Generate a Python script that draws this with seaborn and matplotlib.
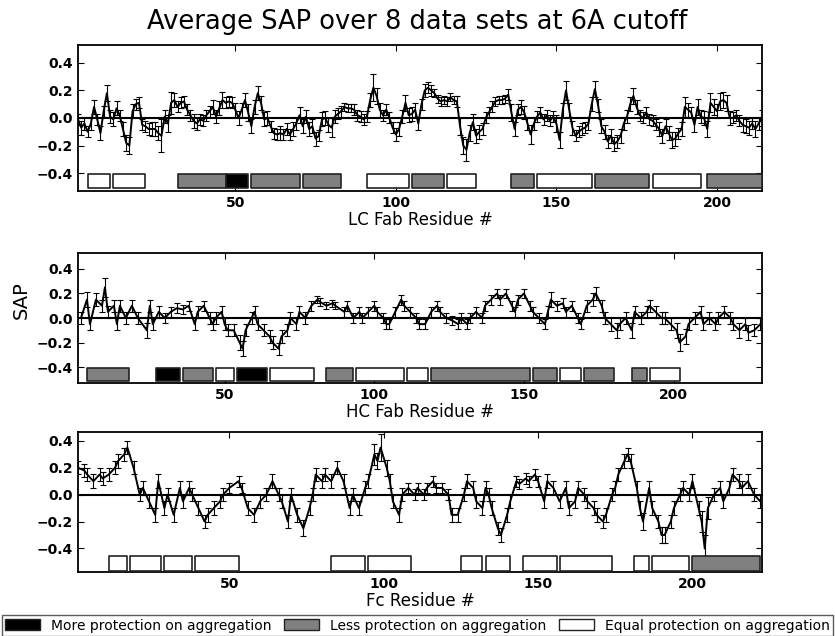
import matplotlib
matplotlib.use("Agg")
import numpy as np
import seaborn as sns
from matplotlib import pyplot as plt
from matplotlib.patches import Patch

sns.set_style("ticks", {"text.color": "black", "axes.labelcolor": "black",
                        "xtick.color": "black", "ytick.color": "black",
                        "axes.edgecolor": "black"})
plt.rcParams['font.family'] = ['DejaVu Sans']

# LC Fab, residues 1-214
lc_res = list(range(1, 215))
lc_sap = [-0.01, -0.07, -0.04, -0.10, -0.04, 0.08, -0.01, -0.11, 0.05, 0.18,
          0.01, -0.01, 0.07, 0.02, -0.08, -0.18, -0.20, 0.05, 0.10, 0.11,
          -0.05, -0.06, -0.08, -0.08, -0.08, -0.11, -0.13, 0.01, -0.04, 0.11,
          0.13, 0.08, 0.11, 0.12, 0.06, 0.02, -0.02, -0.04, -0.01, -0.02,
          0.02, 0.05, 0.08, 0.01, 0.07, 0.13, 0.11, 0.12, 0.11, 0.06,
          0.00, 0.06, 0.13, 0.04, -0.06, 0.08, 0.18, 0.11, -0.01, 0.00,
          -0.06, -0.11, -0.12, -0.11, -0.12, -0.08, -0.12, -0.08, -0.04, 0.02,
          -0.06, 0.01, -0.08, -0.06, -0.15, -0.13, -0.01, 0.00, -0.05, -0.07,
          0.01, 0.03, 0.05, 0.08, 0.07, 0.07, 0.06, 0.02, 0.01, -0.01,
          0.01, 0.13, 0.22, 0.16, 0.06, 0.02, 0.06, 0.00, -0.07, -0.12,
          -0.08, 0.01, 0.11, 0.02, 0.03, 0.06, -0.04, 0.10, 0.20, 0.22,
          0.20, 0.18, 0.14, 0.12, 0.13, 0.12, 0.15, 0.13, 0.12, -0.06,
          -0.20, -0.23, -0.11, -0.03, -0.13, -0.10, -0.08, 0.00, 0.04, 0.08,
          0.12, 0.13, 0.13, 0.14, 0.17, 0.04, -0.08, 0.06, 0.08, 0.04,
          -0.04, -0.12, -0.04, 0.01, 0.04, -0.01, 0.02, -0.02, 0.01, -0.04,
          -0.16, 0.06, 0.20, 0.06, -0.07, -0.13, -0.10, -0.08, -0.07, -0.04,
          0.10, 0.21, 0.09, -0.06, -0.10, -0.17, -0.13, -0.19, -0.17, -0.13,
          -0.04, 0.01, 0.10, 0.16, 0.08, 0.02, 0.00, 0.04, -0.01, -0.02,
          -0.05, -0.08, -0.13, -0.06, -0.11, -0.16, -0.15, -0.11, -0.08, 0.08,
          0.06, 0.04, -0.05, 0.08, 0.01, 0.00, -0.08, 0.11, 0.08, 0.05,
          0.12, 0.13, 0.11, 0.00, 0.00, 0.02, -0.02, -0.05, -0.06, -0.07,
          -0.04, -0.08, -0.04, 0.00]
lc_err = [0.04, 0.05, 0.05, 0.04, 0.05, 0.05, 0.04, 0.05, 0.04, 0.06,
          0.05, 0.05, 0.05, 0.04, 0.05, 0.06, 0.06, 0.05, 0.04, 0.04,
          0.04, 0.04, 0.04, 0.05, 0.05, 0.05, 0.12, 0.05, 0.06, 0.08,
          0.05, 0.04, 0.04, 0.04, 0.04, 0.04, 0.05, 0.05, 0.04, 0.04,
          0.04, 0.04, 0.05, 0.05, 0.05, 0.06, 0.04, 0.04, 0.04, 0.05,
          0.05, 0.05, 0.05, 0.06, 0.05, 0.05, 0.05, 0.05, 0.05, 0.05,
          0.04, 0.04, 0.04, 0.05, 0.04, 0.04, 0.04, 0.05, 0.05, 0.06,
          0.05, 0.05, 0.05, 0.05, 0.05, 0.04, 0.05, 0.05, 0.05, 0.07,
          0.05, 0.04, 0.04, 0.03, 0.03, 0.03, 0.04, 0.04, 0.04, 0.04,
          0.04, 0.05, 0.10, 0.06, 0.05, 0.04, 0.04, 0.04, 0.04, 0.05,
          0.05, 0.05, 0.06, 0.05, 0.05, 0.05, 0.05, 0.04, 0.05, 0.04,
          0.04, 0.03, 0.03, 0.03, 0.03, 0.03, 0.03, 0.03, 0.04, 0.06,
          0.06, 0.08, 0.06, 0.06, 0.05, 0.05, 0.04, 0.04, 0.04, 0.04,
          0.03, 0.03, 0.03, 0.03, 0.04, 0.06, 0.05, 0.04, 0.05, 0.05,
          0.05, 0.07, 0.05, 0.04, 0.04, 0.04, 0.04, 0.04, 0.04, 0.06,
          0.06, 0.05, 0.07, 0.05, 0.05, 0.04, 0.04, 0.04, 0.04, 0.05,
          0.05, 0.06, 0.05, 0.05, 0.05, 0.05, 0.05, 0.05, 0.05, 0.05,
          0.05, 0.05, 0.05, 0.06, 0.05, 0.04, 0.04, 0.04, 0.04, 0.04,
          0.04, 0.05, 0.05, 0.05, 0.05, 0.06, 0.05, 0.04, 0.05, 0.07,
          0.05, 0.04, 0.05, 0.06, 0.05, 0.05, 0.06, 0.07, 0.06, 0.05,
          0.06, 0.06, 0.06, 0.05, 0.04, 0.04, 0.04, 0.05, 0.05, 0.05,
          0.04, 0.06, 0.05, 0.06]

# HC Fab
hc_res = [2, 4, 5, 7, 9, 10, 11, 13, 14, 15,
          17, 19, 21, 24, 25, 26, 28, 30, 32, 34,
          36, 38, 40, 41, 43, 45, 46, 47, 49, 50,
          51, 53, 55, 56, 57, 59, 60, 61, 63, 65,
          66, 68, 69, 71, 72, 74, 75, 77, 79, 81,
          82, 84, 86, 87, 90, 91, 93, 95, 96, 98,
          100, 101, 103, 104, 105, 107, 109, 110, 112, 114,
          115, 117, 119, 121, 122, 124, 126, 128, 129, 131,
          132, 134, 136, 137, 139, 141, 142, 144, 146, 147,
          148, 150, 152, 153, 155, 157, 158, 159, 161, 163,
          164, 166, 168, 169, 171, 173, 174, 176, 177, 179,
          181, 182, 184, 186, 187, 189, 191, 192, 194, 196,
          197, 199, 201, 202, 204, 205, 207, 209, 210, 212,
          214, 215, 217, 219, 220, 222, 224, 225, 227, 229]
hc_sap = [0.0, 0.15, -0.05, 0.15, 0.1, 0.25, 0.05, 0.1, -0.05, 0.1,
          0.0, 0.1, 0.0, -0.1, 0.1, -0.05, 0.05, 0.0, 0.05, 0.08,
          0.07, 0.1, -0.05, 0.05, 0.1, 0.0, -0.05, 0.0, 0.05, -0.05,
          -0.1, -0.1, -0.2, -0.25, -0.1, 0.0, 0.05, -0.05, -0.1, -0.15,
          -0.2, -0.25, -0.15, -0.1, 0.0, -0.05, 0.05, 0.0, 0.1, 0.15,
          0.13, 0.1, 0.12, 0.1, 0.05, 0.1, 0.0, 0.05, 0.0, 0.05,
          0.1, 0.05, 0.0, -0.05, -0.05, 0.05, 0.15, 0.1, 0.05, 0.0,
          -0.05, -0.05, 0.05, 0.1, 0.05, 0.0, -0.02, -0.05, 0.0, -0.05,
          0.0, 0.05, 0.0, 0.1, 0.15, 0.2, 0.15, 0.2, 0.1, 0.05,
          0.15, 0.2, 0.1, 0.05, 0.0, -0.05, 0.05, 0.15, 0.1, 0.12,
          0.05, 0.1, 0.0, -0.05, 0.1, 0.15, 0.2, 0.1, 0.0, -0.05,
          -0.1, -0.05, 0.0, -0.1, 0.05, 0.0, 0.05, 0.1, 0.05, 0.0,
          0.0, -0.05, -0.1, -0.2, -0.15, -0.05, 0.0, 0.05, -0.05, 0.0,
          -0.05, 0.0, 0.05, 0.0, -0.05, -0.1, -0.05, -0.12, -0.1, -0.05]
hc_err = [0.05, 0.06, 0.05, 0.05, 0.05, 0.08, 0.05, 0.05, 0.05, 0.05,
          0.05, 0.05, 0.05, 0.06, 0.05, 0.05, 0.05, 0.04, 0.04, 0.04,
          0.04, 0.04, 0.05, 0.05, 0.04, 0.05, 0.05, 0.05, 0.05, 0.05,
          0.05, 0.05, 0.06, 0.06, 0.05, 0.05, 0.05, 0.05, 0.05, 0.05,
          0.05, 0.05, 0.05, 0.05, 0.05, 0.05, 0.05, 0.05, 0.04, 0.03,
          0.03, 0.03, 0.03, 0.03, 0.04, 0.04, 0.04, 0.04, 0.04, 0.04,
          0.04, 0.04, 0.04, 0.04, 0.04, 0.04, 0.04, 0.04, 0.04, 0.04,
          0.04, 0.04, 0.04, 0.04, 0.04, 0.04, 0.04, 0.04, 0.04, 0.04,
          0.04, 0.04, 0.04, 0.04, 0.04, 0.04, 0.04, 0.04, 0.04, 0.04,
          0.04, 0.04, 0.04, 0.04, 0.04, 0.04, 0.05, 0.06, 0.04, 0.04,
          0.04, 0.04, 0.04, 0.04, 0.05, 0.05, 0.05, 0.05, 0.05, 0.06,
          0.06, 0.05, 0.05, 0.06, 0.05, 0.05, 0.05, 0.05, 0.05, 0.05,
          0.05, 0.05, 0.06, 0.07, 0.06, 0.05, 0.05, 0.05, 0.05, 0.05,
          0.05, 0.05, 0.05, 0.05, 0.05, 0.06, 0.05, 0.06, 0.05, 0.05]

# Fc
fc_res = [1, 3, 4, 6, 8, 9, 11, 13, 14, 16,
          17, 19, 21, 22, 24, 26, 27, 29, 30, 32,
          34, 35, 37, 38, 40, 42, 43, 45, 47, 48,
          50, 53, 54, 56, 58, 60, 62, 64, 66, 67,
          69, 70, 72, 74, 76, 77, 78, 80, 81, 83,
          85, 87, 89, 90, 92, 94, 95, 97, 98, 99,
          101, 102, 103, 105, 106, 108, 110, 111, 113, 114,
          116, 117, 119, 121, 122, 124, 126, 127, 129, 130,
          132, 133, 134, 135, 137, 138, 140, 141, 143, 144,
          146, 147, 149, 150, 152, 153, 155, 157, 159, 160,
          162, 163, 165, 166, 168, 169, 171, 172, 174, 175,
          176, 178, 179, 180, 182, 183, 184, 186, 187, 189,
          190, 191, 193, 194, 196, 197, 199, 200, 202, 203,
          204, 205, 207, 209, 210, 212, 213, 215, 216, 218,
          220, 222]
fc_sap = [0.2, 0.18, 0.15, 0.1, 0.15, 0.12, 0.15, 0.2, 0.25, 0.3,
          0.35, 0.2, 0.0, 0.05, -0.05, -0.15, 0.1, -0.1, 0.0, -0.15,
          0.05, -0.05, 0.05, 0.0, -0.1, -0.2, -0.15, -0.1, -0.05, 0.0,
          0.05, 0.1, 0.05, -0.1, -0.15, -0.05, 0.0, 0.1, 0.0, -0.05,
          -0.2, 0.0, -0.15, -0.25, -0.1, 0.0, 0.15, 0.1, 0.15, 0.1,
          0.2, 0.1, -0.1, 0.0, -0.1, 0.05, 0.1, 0.3, 0.25, 0.35,
          0.2, 0.1, -0.05, -0.15, 0.0, 0.05, 0.0, 0.05, 0.0, 0.05,
          0.1, 0.05, 0.05, 0.0, -0.15, -0.15, 0.0, 0.1, 0.05, -0.05,
          -0.1, 0.05, 0.0, -0.1, -0.25, -0.3, -0.15, -0.05, 0.1, 0.08,
          0.12, 0.1, 0.15, 0.1, -0.05, 0.1, 0.05, -0.05, 0.05, -0.1,
          -0.05, 0.05, 0.0, -0.05, -0.1, -0.15, -0.2, -0.15, 0.0, 0.05,
          0.15, 0.25, 0.3, 0.25, 0.05, -0.1, -0.2, 0.05, -0.1, -0.2,
          -0.3, -0.3, -0.2, -0.1, 0.0, 0.05, 0.0, 0.1, -0.1, -0.2,
          -0.4, -0.1, 0.0, 0.05, -0.05, 0.05, 0.15, 0.1, 0.05, 0.1,
          0.0, -0.05]
fc_err = [0.05, 0.05, 0.05, 0.05, 0.05, 0.05, 0.05, 0.05, 0.05, 0.05,
          0.05, 0.05, 0.05, 0.05, 0.05, 0.05, 0.05, 0.05, 0.05, 0.05,
          0.05, 0.05, 0.05, 0.05, 0.05, 0.05, 0.05, 0.05, 0.05, 0.05,
          0.04, 0.04, 0.04, 0.05, 0.05, 0.05, 0.05, 0.05, 0.05, 0.05,
          0.05, 0.05, 0.05, 0.06, 0.05, 0.05, 0.05, 0.05, 0.05, 0.05,
          0.05, 0.05, 0.05, 0.05, 0.05, 0.05, 0.05, 0.08, 0.06, 0.1,
          0.06, 0.05, 0.05, 0.05, 0.05, 0.04, 0.04, 0.04, 0.04, 0.04,
          0.04, 0.04, 0.04, 0.04, 0.05, 0.05, 0.05, 0.05, 0.05, 0.05,
          0.05, 0.05, 0.05, 0.05, 0.05, 0.05, 0.05, 0.05, 0.04, 0.04,
          0.04, 0.04, 0.04, 0.04, 0.05, 0.05, 0.05, 0.05, 0.05, 0.05,
          0.05, 0.05, 0.05, 0.05, 0.05, 0.05, 0.05, 0.05, 0.05, 0.05,
          0.05, 0.05, 0.05, 0.05, 0.05, 0.05, 0.06, 0.05, 0.05, 0.05,
          0.06, 0.06, 0.05, 0.05, 0.05, 0.05, 0.05, 0.05, 0.05, 0.08,
          0.1, 0.08, 0.05, 0.05, 0.05, 0.05, 0.05, 0.05, 0.05, 0.05,
          0.05, 0.05]

# protection boxes: start, end, kind
lc_box_start = [4, 12, 32, 47, 55, 71, 91, 105, 116, 136, 144, 162, 180, 197]
lc_box_end = [11, 22, 47, 54, 70, 83, 104, 115, 125, 143, 161, 179, 195, 214]
lc_box_kind = ['equal', 'equal', 'less', 'more', 'less', 'less', 'equal', 'less',
               'equal', 'less', 'equal', 'less', 'equal', 'less']

hc_box_start = [4, 27, 36, 47, 54, 65, 84, 94, 111, 119, 153, 162, 170, 186, 192]
hc_box_end = [18, 35, 46, 53, 64, 80, 93, 110, 118, 152, 161, 169, 180, 191, 202]
hc_box_kind = ['less', 'more', 'less', 'equal', 'more', 'equal', 'less', 'equal',
               'equal', 'less', 'less', 'equal', 'less', 'less', 'equal']

fc_box_start = [11, 18, 29, 39, 83, 95, 125, 133, 145, 157, 181, 187, 200]
fc_box_end = [17, 28, 38, 53, 94, 109, 132, 141, 156, 174, 186, 199, 222]
fc_box_kind = ['equal'] * 12 + ['less']

kind_color = {'more': 'black', 'less': '#808080', 'equal': 'white'}
kind_label = {'more': 'More protection on aggregation',
              'less': 'Less protection on aggregation',
              'equal': 'Equal protection on aggregation'}

# residues, sap, err, boxes, label, x max, y limits, box band
panels = [
    (lc_res, lc_sap, lc_err, lc_box_start, lc_box_end, lc_box_kind,
     'LC Fab Residue #', 214, (-0.53, 0.53), (-0.51, 0.1)),
    (hc_res, hc_sap, hc_err, hc_box_start, hc_box_end, hc_box_kind,
     'HC Fab Residue #', 229.5, (-0.53, 0.53), (-0.51, 0.1)),
    (fc_res, fc_sap, fc_err, fc_box_start, fc_box_end, fc_box_kind,
     'Fc Residue #', 222.5, (-0.575, 0.465), (-0.565, 0.11)),
]
rects = [[0.0934, 0.6997, 0.819, 0.2296],
         [0.0934, 0.3978, 0.819, 0.2044],
         [0.0934, 0.1006, 0.819, 0.220]]

fig = plt.figure(figsize=(8.35, 6.36), dpi=100)

for rect, (res, sap, err, bs, be, bk, xlab, xmax, ylim, band) in zip(rects, panels):
    ax = fig.add_axes(rect)
    ax.axhline(0, color='black', lw=1.5, zorder=1)
    ax.errorbar(res, sap, yerr=err, fmt='none', ecolor='black',
                elinewidth=0.8, capsize=2.2, capthick=0.8, zorder=2)
    sns.lineplot(x=res, y=sap, ax=ax, color='black', lw=1.4, zorder=3)
    for s, e, k in zip(bs, be, bk):
        ax.broken_barh([(s, e - s)], band, facecolors=kind_color[k],
                       edgecolors='#222222', linewidth=1.2, zorder=4)
    ax.set_xlim(1, xmax)
    ax.set_ylim(*ylim)
    ax.set_xticks([50, 100, 150, 200])
    ax.set_yticks([-0.4, -0.2, 0.0, 0.2, 0.4])
    ax.set_yticklabels(['\u22120.4', '\u22120.2', '0.0', '0.2', '0.4'])
    ax.tick_params(direction='in', top=True, right=True, length=4, labelsize=10)
    for lab in ax.get_xticklabels() + ax.get_yticklabels():
        lab.set_fontweight('bold')
    ax.set_xlabel(xlab, fontsize=12, labelpad=1)
    ax.set_ylabel('')
    for sp in ax.spines.values():
        sp.set_linewidth(1.3)

fig.text(0.5, 0.965, 'Average SAP over 8 data sets at 6A cutoff',
         ha='center', va='center', fontsize=18.5)
fig.text(0.026, 0.528, 'SAP', rotation=90, ha='center', va='center', fontsize=14)

handles = [Patch(facecolor=kind_color[k], edgecolor='#222222', label=kind_label[k])
           for k in ['more', 'less', 'equal']]
fig.legend(handles=handles, loc='lower left', ncol=3, mode='expand',
           bbox_to_anchor=(0.002, 0.0, 0.996, 0.036), borderaxespad=0,
           fontsize=10, frameon=True, fancybox=False, edgecolor='#333333',
           handlelength=2.5, handleheight=0.8, borderpad=0.25, columnspacing=2.0)

fig.savefig('out.png', dpi=100)
